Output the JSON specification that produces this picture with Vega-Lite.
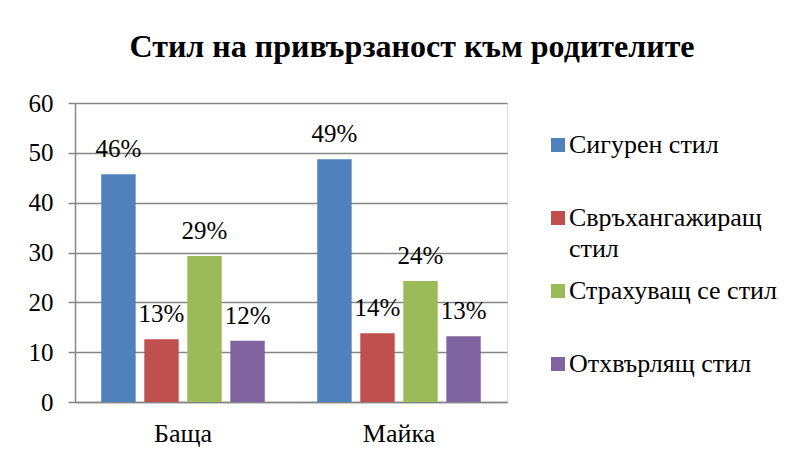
{
  "$schema": "https://vega.github.io/schema/vega-lite/v6.json",
  "width": 432,
  "height": 299,
  "autosize": {"type": "none"},
  "padding": {"left": 75, "top": 103, "right": 290, "bottom": 57},
  "background": "white",
  "config": {"font": "Liberation Serif"},
  "title": {
    "text": "Стил на привързаност към родителите",
    "font": "Liberation Serif",
    "fontSize": 32,
    "fontWeight": "bold",
    "color": "black",
    "anchor": "middle",
    "frame": "group",
    "dx": 121,
    "offset": 27
  },
  "data": {
    "values": [
      {"parent": "Баща", "style": "Сигурен стил", "value": 45.7, "label": "46%"},
      {"parent": "Баща", "style": "Свръхангажиращ стил", "value": 12.6, "label": "13%"},
      {"parent": "Баща", "style": "Страхуващ се стил", "value": 29.3, "label": "29%"},
      {"parent": "Баща", "style": "Отхвърлящ стил", "value": 12.3, "label": "12%"},
      {"parent": "Майка", "style": "Сигурен стил", "value": 48.7, "label": "49%"},
      {"parent": "Майка", "style": "Свръхангажиращ стил", "value": 13.8, "label": "14%"},
      {"parent": "Майка", "style": "Страхуващ се стил", "value": 24.3, "label": "24%"},
      {"parent": "Майка", "style": "Отхвърлящ стил", "value": 13.2, "label": "13%"}
    ]
  },
  "encoding": {
    "x": {
      "field": "parent",
      "type": "nominal",
      "sort": ["Баща", "Майка"],
      "scale": {"paddingInner": 0.243, "paddingOuter": 0.1215},
      "axis": {
        "title": null,
        "labelAngle": 0,
        "ticks": false,
        "domainColor": "#868686",
        "domainWidth": 1.5,
        "labelFont": "Liberation Serif",
        "labelFontSize": 26,
        "labelColor": "black",
        "labelPadding": 18
      }
    },
    "xOffset": {
      "field": "style",
      "sort": ["Сигурен стил", "Свръхангажиращ стил", "Страхуващ се стил", "Отхвърлящ стил"],
      "scale": {"paddingInner": 0.2, "paddingOuter": 0}
    },
    "y": {
      "field": "value",
      "type": "quantitative",
      "scale": {"domain": [0, 60]},
      "axis": {
        "title": null,
        "values": [0, 10, 20, 30, 40, 50, 60],
        "domainColor": "#868686",
        "domainWidth": 1.5,
        "tickColor": "#868686",
        "tickWidth": 1.5,
        "tickSize": 7,
        "gridColor": "#868686",
        "gridWidth": 1.5,
        "labelFont": "Liberation Serif",
        "labelFontSize": 25,
        "labelColor": "black",
        "labelPadding": 15
      }
    }
  },
  "layer": [
    {
      "mark": {"type": "bar"},
      "encoding": {
        "color": {
          "field": "style",
          "type": "nominal",
          "sort": ["Сигурен стил", "Свръхангажиращ стил", "Страхуващ се стил", "Отхвърлящ стил"],
          "scale": {"range": ["#4F81BD", "#C0504D", "#9BBB59", "#8064A2"]},
          "legend": {
            "title": null,
            "orient": "right",
            "offset": 9,
            "padding": 29,
            "symbolType": "square",
            "symbolSize": 196,
            "symbolStrokeWidth": 0,
            "labelFont": "Liberation Serif",
            "labelFontSize": 26,
            "labelColor": "black",
            "labelLimit": 300,
            "labelOffset": -2,
            "rowPadding": 16,
            "gridAlign": "all",
            "labelBaseline": "top",
            "labelExpr": "datum.label == 'Свръхангажиращ стил' ? ['Свръхангажиращ', 'стил'] : datum.label",
            "encode": {"labels": {"update": {"dy": {"value": -13}, "lineHeight": {"value": 31}}}}
          }
        }
      }
    },
    {
      "mark": {"type": "text", "baseline": "alphabetic", "dy": -17, "font": "Liberation Serif", "fontSize": 25, "color": "black"},
      "encoding": {"text": {"field": "label"}}
    }
  ]
}
